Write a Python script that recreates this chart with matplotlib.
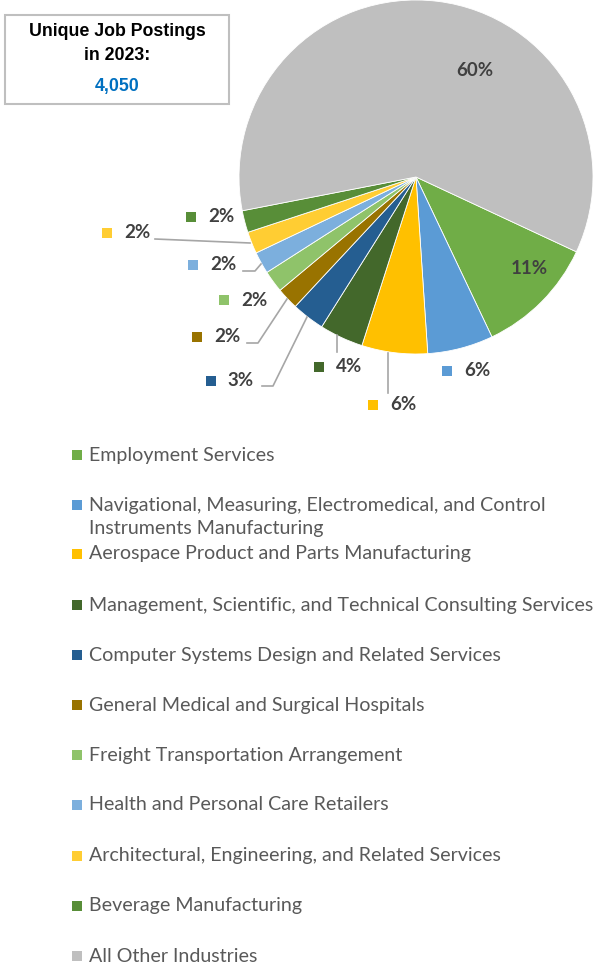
import matplotlib
matplotlib.use("Agg")
import matplotlib.pyplot as plt
from matplotlib.patches import Rectangle

categories = [
    "Employment Services",
    "Navigational, Measuring, Electromedical, and Control\nInstruments Manufacturing",
    "Aerospace Product and Parts Manufacturing",
    "Management, Scientific, and Technical Consulting Services",
    "Computer Systems Design and Related Services",
    "General Medical and Surgical Hospitals",
    "Freight Transportation Arrangement",
    "Health and Personal Care Retailers",
    "Architectural, Engineering, and Related Services",
    "Beverage Manufacturing",
    "All Other Industries",
]
shares = [11, 6, 6, 4, 3, 2, 2, 2, 2, 2, 60]
total_postings = "4,050"
colors = ["#70AD47", "#5B9BD5", "#FFC000", "#43682B", "#255E91", "#997300",
          "#8FC36A", "#7CAFDD", "#FFCD33", "#588E38", "#BFBFBF"]

W, H = 605, 966
fig = plt.figure(figsize=(W / 100, H / 100), dpi=100)
ax = fig.add_axes([0, 0, 1, 1])

def Y(y):
    return H - y

cx, cy, r = 416, 177, 177
ax.pie(shares, colors=colors, startangle=-25, counterclock=False,
       center=(cx, Y(cy)), radius=r,
       wedgeprops=dict(edgecolor="white", linewidth=0.6))
ax.set_xlim(0, W)
ax.set_ylim(0, H)
ax.set_aspect("equal")
ax.axis("off")

lab_font = dict(family=["Lato", "DejaVu Sans"], fontweight="bold", fontsize=13.5, color="#404040")
# label layout: (square x, text x, y) ; None square for inside labels
label_pos = [
    (None, 529, 268),
    (447, 477, 371),
    (373, 403, 405),
    (319, 349, 367),
    (211, 241, 381),
    (197, 227, 337),
    (224, 254, 300),
    (193, 223, 265),
    (107, 137, 233),
    (191, 221, 217),
    (None, 475, 70),
]
for v, c, (sx, tx, ty) in zip(shares, colors, label_pos):
    if sx is not None:
        ax.add_patch(Rectangle((sx - 5, Y(ty) - 5), 10, 10, color=c, lw=0))
    ax.text(tx, Y(ty), f"{v}%", ha="center", va="center", **lab_font)

leaders = [
    [(388, 393), (388, 353)],
    [(337, 352), (337, 335)],
    [(262, 386), (273, 386), (307, 317)],
    [(247, 343), (258, 343), (287, 299)],
    [(243, 271), (255, 271), (261, 264)],
    [(155, 239), (250, 243)],
]
for pts in leaders:
    ax.plot([p[0] for p in pts], [Y(p[1]) for p in pts], color="#A6A6A6", lw=1.2)

# title box
ax.add_patch(Rectangle((5, Y(104)), 224, 89, fill=False, edgecolor="#BFBFBF", lw=1.5))
tfont = dict(family=["Liberation Sans", "DejaVu Sans"], fontweight="bold", fontsize=12.8)
ax.text(117, Y(32), "Unique Job Postings", ha="center", va="center", color="black", **tfont)
ax.text(117, Y(55), "in 2023:", ha="center", va="center", color="black", **tfont)
ax.text(117, Y(87), total_postings, ha="center", va="center", color="#0070C0", **tfont)

# legend (font size fitted so the longest entry spans like the reference)
leg_family = ["Lato", "DejaVu Sans"]
renderer = fig.canvas.get_renderer()
probe = ax.text(0, 0, categories[3], fontsize=10, family=leg_family)
wpx = probe.get_window_extent(renderer).width
probe.remove()
leg_size = 10 * 505 / wpx
leg_font = dict(family=leg_family, fontsize=leg_size, color="#595959")
leg_y = [455, 505, 554, 605, 655, 705, 755, 805, 856, 906, 956]
for cat, c, ly in zip(categories, colors, leg_y):
    ax.add_patch(Rectangle((72, Y(ly) - 5), 10, 10, color=c, lw=0))
    if "\n" in cat:
        ax.text(89, Y(ly + 12), cat, ha="left", va="center", linespacing=1.38, **leg_font)
    else:
        ax.text(89, Y(ly), cat, ha="left", va="center", **leg_font)

fig.savefig("out.png", dpi=100)
